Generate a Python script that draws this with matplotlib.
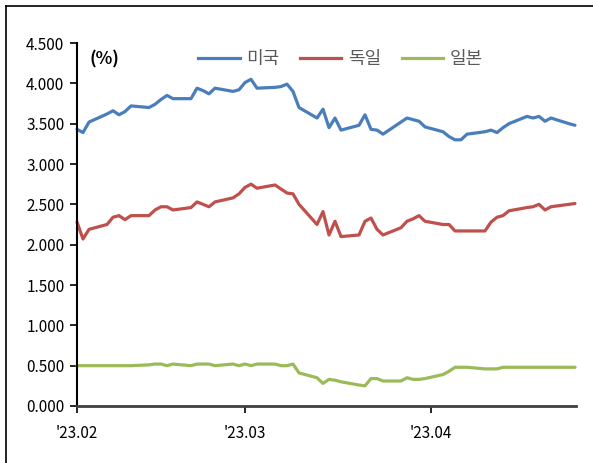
"""
Government bond yields: US, Germany, Japan (Feb-Apr 2023).
"""

import numpy as np
import pandas as pd
from matplotlib import pyplot as plt
from matplotlib.lines import Line2D

plt.rcParams['font.family'] = ['Noto Sans CJK KR', 'DejaVu Sans']

# business days shown on the chart
dates = pd.to_datetime([
    '2023-02-01', '2023-02-02', '2023-02-03', '2023-02-06', '2023-02-07',
    '2023-02-08', '2023-02-09', '2023-02-10', '2023-02-13', '2023-02-14',
    '2023-02-15', '2023-02-16', '2023-02-17', '2023-02-20', '2023-02-21',
    '2023-02-22', '2023-02-23', '2023-02-24', '2023-02-27', '2023-02-28',
    '2023-03-01', '2023-03-02', '2023-03-03', '2023-03-06', '2023-03-07',
    '2023-03-08', '2023-03-09', '2023-03-10', '2023-03-13', '2023-03-14',
    '2023-03-15', '2023-03-16', '2023-03-17', '2023-03-20', '2023-03-21',
    '2023-03-22', '2023-03-23', '2023-03-24', '2023-03-27', '2023-03-28',
    '2023-03-29', '2023-03-30', '2023-03-31', '2023-04-03', '2023-04-04',
    '2023-04-05', '2023-04-06', '2023-04-07', '2023-04-10', '2023-04-11',
    '2023-04-12', '2023-04-13', '2023-04-14', '2023-04-17', '2023-04-18',
    '2023-04-19', '2023-04-20', '2023-04-21', '2023-04-24', '2023-04-25',
])

us = [3.43, 3.39, 3.52, 3.62, 3.66, 3.61, 3.65, 3.72, 3.70, 3.74,
      3.80, 3.85, 3.81, 3.81, 3.94, 3.91, 3.87, 3.94, 3.90, 3.92,
      4.01, 4.05, 3.94, 3.95, 3.96, 3.99, 3.90, 3.70, 3.57, 3.68,
      3.45, 3.57, 3.42, 3.48, 3.61, 3.43, 3.42, 3.37, 3.52, 3.57,
      3.55, 3.53, 3.46, 3.40, 3.34, 3.30, 3.30, 3.37, 3.40, 3.42,
      3.39, 3.45, 3.50, 3.59, 3.57, 3.59, 3.53, 3.57, 3.50, 3.48]

de = [2.28, 2.07, 2.19, 2.25, 2.34, 2.36, 2.31, 2.36, 2.36, 2.43,
      2.47, 2.47, 2.43, 2.46, 2.53, 2.50, 2.47, 2.53, 2.58, 2.63,
      2.71, 2.75, 2.70, 2.74, 2.69, 2.64, 2.63, 2.50, 2.25, 2.41,
      2.12, 2.29, 2.10, 2.12, 2.29, 2.33, 2.19, 2.12, 2.21, 2.29,
      2.32, 2.36, 2.29, 2.25, 2.25, 2.17, 2.17, 2.17, 2.17, 2.28,
      2.34, 2.36, 2.42, 2.46, 2.47, 2.50, 2.43, 2.47, 2.50, 2.51]

jp = [0.50, 0.50, 0.50, 0.50, 0.50, 0.50, 0.50, 0.50, 0.51, 0.52,
      0.52, 0.50, 0.52, 0.50, 0.52, 0.52, 0.52, 0.50, 0.52, 0.50,
      0.52, 0.50, 0.52, 0.52, 0.50, 0.50, 0.52, 0.41, 0.35, 0.28,
      0.33, 0.32, 0.30, 0.26, 0.25, 0.34, 0.34, 0.31, 0.31, 0.35,
      0.33, 0.33, 0.34, 0.39, 0.43, 0.48, 0.48, 0.48, 0.46, 0.46,
      0.46, 0.48, 0.48, 0.48, 0.48, 0.48, 0.48, 0.48, 0.48, 0.48]

names = ['미국', '독일', '일본']
colors = ['#4A7EBB', '#C0504D', '#9BBB59']

tick_dates = pd.to_datetime(['2023-02-01', '2023-03-01', '2023-04-01'])
tick_labels = ["'23.02", "'23.03", "'23.04"]


fig = plt.figure(figsize=(5.93, 4.63), dpi=100)
ax = fig.add_axes([77/593, 1 - 406/463, (576 - 77)/593, (406 - 43)/463])

for series, name, col in zip([us, de, jp], names, colors):
    ax.plot(dates, series, color=col, lw=2.3, label=name,
            solid_joinstyle='round', solid_capstyle='round', clip_on=False)

ax.set_ylim(0, 4.5)
ax.set_yticks(np.arange(0, 4.51, 0.5))
ax.set_yticklabels([f'{v:.3f}' for v in np.arange(0, 4.51, 0.5)])
ax.set_xlim(tick_dates[0], pd.Timestamp('2023-04-25 04:00'))
ax.set_xticks(tick_dates)
ax.set_xticklabels(tick_labels)

for s in ['top', 'right']:
    ax.spines[s].set_visible(False)
ax.spines['left'].set_color('black')
ax.spines['left'].set_linewidth(1.5)
ax.spines['bottom'].set_color('#404040')
ax.spines['bottom'].set_linewidth(2)
ax.tick_params(axis='both', direction='out', length=5, width=1.2,
               labelsize=11, colors='black', pad=4)
ax.tick_params(axis='x', pad=9)

ax.text(0.026, 0.955, '(%)', transform=ax.transAxes, fontsize=12.5,
        fontweight='bold', va='center', ha='left')

handles = [Line2D([], [], color=c, lw=2.3) for c in colors]
leg = ax.legend(handles, names, loc='upper left', bbox_to_anchor=(0.21, 1.025),
                ncol=3, frameon=False, fontsize=13, handlelength=2.3,
                handletextpad=0.35, columnspacing=1.15)
for t in leg.get_texts():
    t.set_color('#595959')

# outer frame (only top and left edges are visible in the crop)
fig.add_artist(Line2D([6/593, 1], [1 - 5.5/463] * 2, color='black', lw=1.2,
                      transform=fig.transFigure))
fig.add_artist(Line2D([6/593] * 2, [0, 1 - 5.5/463], color='black', lw=1.2,
                      transform=fig.transFigure))

plt.savefig('out.png', dpi=100)
